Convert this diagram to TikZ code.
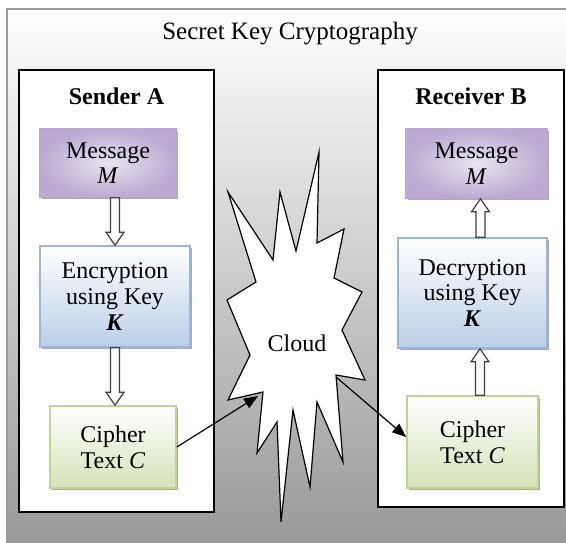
\documentclass[tikz,border=0pt]{standalone}
\usepackage{fontspec}
\setmainfont{Liberation Serif}
\usetikzlibrary{calc,positioning,shadows,arrows.meta}

\definecolor{msgfill}{RGB}{233,228,240}
\definecolor{msgdark}{RGB}{188,170,210}
\definecolor{msgedge}{RGB}{184,170,206}
\definecolor{encfill}{RGB}{186,206,231}
\definecolor{encedge}{RGB}{155,182,216}
\definecolor{cipfill}{RGB}{212,226,184}
\definecolor{cipedge}{RGB}{190,211,152}
\definecolor{skyend}{RGB}{152,152,152}

\tikzset{
	every node/.style={font=\fontsize{12}{12.8}\selectfont},
	partybox/.style={draw=black,fill=white,line width=0.6pt,inner sep=0pt},
	stepbase/.style={rectangle,align=center,inner sep=2pt,line width=0.8pt,
		drop shadow={shadow xshift=1.2pt,shadow yshift=-1.2pt,fill=black!55,opacity=0.6}},
	msgbox/.style={stepbase,draw=msgedge,inner color=msgfill,outer color=msgdark},
	encbox/.style={stepbase,draw=encedge,top color=white,bottom color=encfill},
	cipbox/.style={stepbase,draw=cipedge,top color=white,bottom color=cipfill},
	hollow/.style={draw=black!75,fill=white,line width=0.6pt},
	wire/.style={line width=0.6pt,-{Triangle[length=7pt,width=5.5pt]}}
}

% hollow block arrow: x from #1, runs from y of #1 to y of #2, #3 = head length (sign gives direction)
\newcommand\blockarrow[3]{%
	\draw[hollow] let \p1=(#1),\p2=(#2) in
		({\x1-2.25pt},\y1) -- ({\x1+2.25pt},\y1) -- ({\x1+2.25pt},{\y2+#3pt})
		-- ({\x1+4.5pt},{\y2+#3pt}) -- (\x1,\y2) -- ({\x1-4.5pt},{\y2+#3pt})
		-- ({\x1-2.25pt},{\y2+#3pt}) -- cycle;}

\begin{document}
\begin{tikzpicture}[x=0.5pt,y=-0.5pt]

	\useasboundingbox (0,0) rectangle (566,542);

	% background frame
	\draw[gray!80,line width=1pt,top color=white,bottom color=skyend] (7,9) rectangle (572,548);
	\node (title) at (290,34) {\fontsize{12.5}{15}\selectfont Secret Key Cryptography};

	% the two parties
	\node[partybox,minimum width=97.5pt,minimum height=221pt] (sender) at (116.5,291) {};
	\node[partybox,minimum width=93pt,minimum height=218.5pt] (receiver) at (471,288.5) {};
	\node[font=\fontsize{12}{12.8}\selectfont\bfseries] (senderhead) at ([yshift=-13.5pt]sender.north) {Sender A};
	\node[font=\fontsize{12}{12.8}\selectfont\bfseries] (receiverhead) at ([yshift=-13.5pt]receiver.north) {Receiver B};

	% sender side
	\node[msgbox,minimum width=68pt,minimum height=34pt] (msgA) at (108,163) {Message\\\textit{M}};
	\node[encbox,minimum width=75pt,minimum height=50.5pt] (encA) at (115,296.5) {Encryption\\using Key\\\textbf{\textit{K}}};
	\node[cipbox,minimum width=63pt,minimum height=41pt] (cipA) at (113,447) {Cipher\\Text \textit{C}};

	% receiver side
	\node[msgbox,minimum width=70.5pt,minimum height=34.5pt] (msgB) at (476.5,163.5) {Message\\\textit{M}};
	\node[encbox,minimum width=74.5pt,minimum height=55pt] (decB) at (472.5,293) {Decryption\\using Key\\\textbf{\textit{K}}};
	\node[cipbox,minimum width=65.5pt,minimum height=46pt] (cipB) at (472.5,442) {Cipher\\Text \textit{C}};

	\blockarrow{encA.north |- msgA.south}{encA.north}{6.5}
	\blockarrow{encA.south}{cipA.north}{6.5}
	\blockarrow{$(decB.north)+(8,0)$}{msgB.south}{-6.5}
	\blockarrow{$(cipB.north)+(7.5,0)$}{decB.south}{-6.5}

	% the cloud
	\draw[fill=white,line width=0.6pt] (319,152) -- (317,243) -- (344,229) -- (334,278)
		-- (362,292) -- (342,330) -- (365,380) -- (336,375) -- (343,462) -- (317,402)
		-- (310,487) -- (293,410) -- (281,522) -- (277,422) -- (257,453) -- (263,392)
		-- (228,400) -- (250,355) -- (227,300) -- (256,282) -- (228,192) -- (273,260)
		-- (280,192) -- (296,251) -- cycle;
	\node (cloud) at (297,343) {Cloud};
	\coordinate (cloudin) at (258,396);
	\coordinate (cloudout) at (336,377);

	\draw[wire] (cipA.east) -- (cloudin);
	\draw[wire] (cloudout) -- ([yshift=2.5pt]cipB.west);

\end{tikzpicture}
\end{document}
